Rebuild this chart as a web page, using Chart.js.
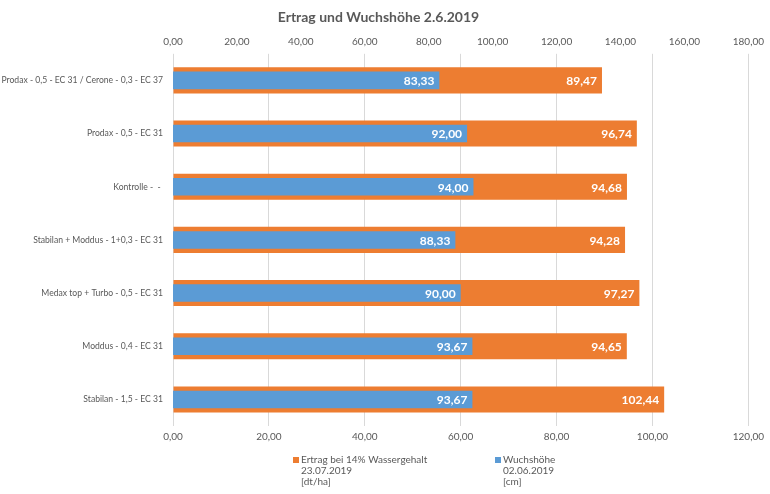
<!DOCTYPE html>
<html>
<head>
<meta charset="utf-8">
<script src="https://cdn.jsdelivr.net/npm/chart.js@4"></script>
<style>
    html, body { margin: 0; padding: 0; background: #ffffff; }
    #wrap { width: 770px; height: 494px; }
</style>
</head>
<body>
<div id="wrap"><canvas id="ertrag_chart"></canvas></div>
<script>
(function () {
    "use strict";

    var categories = [
        "Prodax - 0,5 - EC 31 / Cerone - 0,3 - EC 37",
        "Prodax - 0,5 - EC 31",
        "Kontrolle -  - ",
        "Stabilan + Moddus - 1+0,3 - EC 31",
        "Medax top + Turbo - 0,5 - EC 31",
        "Moddus - 0,4 - EC 31",
        "Stabilan - 1,5 - EC 31"
    ];
    var ertrag = [89.47, 96.74, 94.68, 94.28, 97.27, 94.65, 102.44];
    var wuchshoehe = [83.33, 92.00, 94.00, 88.33, 90.00, 93.67, 93.67];
    var legendLines = [
        ["Ertrag bei 14% Wassergehalt", "23.07.2019", "[dt/ha]"],
        ["Wuchshöhe", "02.06.2019", "[cm]"]
    ];

    var grey = "#595959";
    var orange = "#ED7D31";
    var blue = "#5B9BD5";

    function fmt(v) {
        return Number(v).toFixed(2).replace(".", ",");
    }

    // values written at the inner end of each bar
    var barLabels = {
        id: "barLabels",
        afterDatasetsDraw: function (chart) {
            var ctx = chart.ctx;
            ctx.save();
            ctx.font = "bold 12px Lato";
            ctx.fillStyle = "#ffffff";
            ctx.textAlign = "right";
            ctx.textBaseline = "middle";
            // orange first, blue on top
            [0, 1].forEach(function (di) {
                var meta = chart.getDatasetMeta(di);
                var data = chart.data.datasets[di].data;
                meta.data.forEach(function (bar, i) {
                    ctx.fillText(fmt(data[i]), bar.x - 5, bar.y + 1);
                });
            });
            ctx.restore();
        }
    };

    // excel style legend with three text lines per entry
    var multiLegend = {
        id: "multiLegend",
        afterDraw: function (chart) {
            var ctx = chart.ctx;
            var colors = [orange, blue];
            var starts = [chart.width / 2 - 92, chart.width / 2 + 110];
            var top = 460;
            ctx.save();
            ctx.font = "10px Lato";
            ctx.textAlign = "left";
            ctx.textBaseline = "middle";
            legendLines.forEach(function (lines, k) {
                ctx.fillStyle = colors[k];
                ctx.fillRect(starts[k], top - 3, 6, 6);
                ctx.fillStyle = grey;
                lines.forEach(function (line, j) {
                    ctx.fillText(line, starts[k] + 8, top + j * 11);
                });
            });
            ctx.restore();
        }
    };

    new Chart(document.getElementById("ertrag_chart"), {
        type: "bar",
        data: {
            labels: categories,
            datasets: [
                {
                    label: "Ertrag",
                    data: ertrag,
                    xAxisID: "x",
                    backgroundColor: orange,
                    grouped: false,
                    order: 2,
                    barPercentage: 0.49,
                    categoryPercentage: 1
                },
                {
                    label: "Wuchshöhe",
                    data: wuchshoehe,
                    xAxisID: "x2",
                    backgroundColor: blue,
                    grouped: false,
                    order: 1,
                    barPercentage: 0.33,
                    categoryPercentage: 1
                }
            ]
        },
        options: {
            indexAxis: "y",
            responsive: true,
            maintainAspectRatio: false,
            animation: false,
            layout: {
                padding: { left: 0, right: 13, top: 0, bottom: 46 }
            },
            scales: {
                x: {
                    position: "bottom",
                    min: 0,
                    max: 120,
                    ticks: {
                        stepSize: 20,
                        color: grey,
                        font: { family: "Lato", size: 10 },
                        padding: 5,
                        callback: function (v) { return fmt(v); }
                    },
                    grid: { color: "#D9D9D9", drawTicks: false },
                    border: { display: false }
                },
                x2: {
                    position: "top",
                    min: 0,
                    max: 180,
                    ticks: {
                        stepSize: 20,
                        color: grey,
                        font: { family: "Lato", size: 10 },
                        padding: 6,
                        callback: function (v) { return fmt(v); }
                    },
                    grid: { display: false, drawTicks: false },
                    border: { display: false }
                },
                y: {
                    afterFit: function (scale) {
                        scale.width = 173;
                    },
                    ticks: {
                        color: grey,
                        font: { family: "Lato", size: 8.6 },
                        padding: 10
                    },
                    grid: { display: false, drawTicks: false },
                    border: { display: false }
                }
            },
            plugins: {
                legend: { display: false },
                tooltip: { enabled: false },
                title: {
                    display: true,
                    text: "Ertrag und Wuchshöhe 2.6.2019",
                    color: grey,
                    font: { family: "Lato", size: 14, weight: "bold" },
                    padding: { top: 9, bottom: 4 }
                }
            }
        },
        plugins: [barLabels, multiLegend]
    });
})();
</script>
</body>
</html>
